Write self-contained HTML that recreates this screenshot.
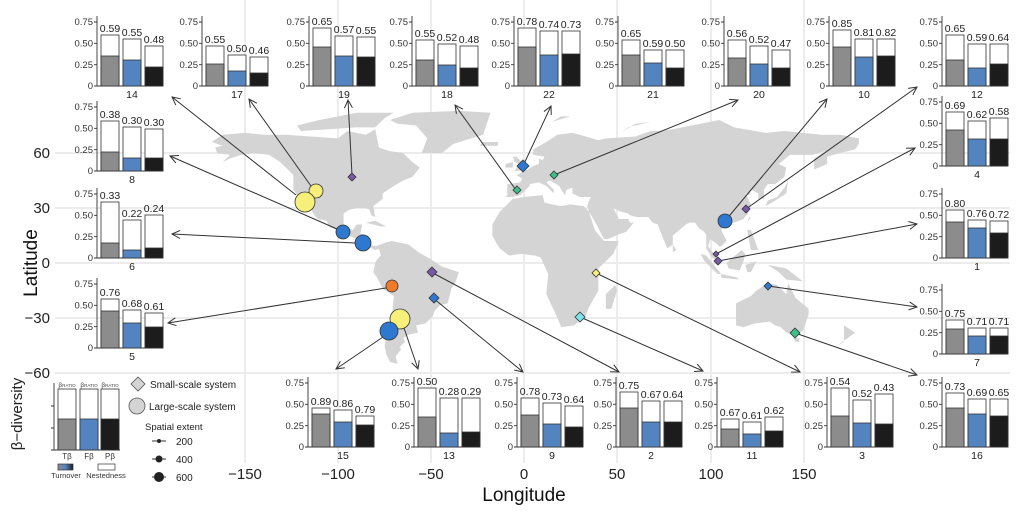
<!DOCTYPE html>
<html><head><meta charset="utf-8"><style>
html,body{margin:0;padding:0;background:#fff}
svg{display:block}
text{font-family:"Liberation Sans",Arial,sans-serif}
.t{font-size:9.5px;fill:#333;text-anchor:end}
.v{font-size:10.5px;fill:#222;text-anchor:middle}
.n{font-size:10.5px;fill:#222;text-anchor:middle}
.ax{stroke:#333;stroke-width:0.9;fill:none}
.g{fill:#8c8c8c;stroke:#333;stroke-width:0.8}
.b{fill:#5384c0;stroke:#333;stroke-width:0.8}
.k{fill:#1c1c1c;stroke:#333;stroke-width:0.8}
.w{fill:#fff;stroke:#333;stroke-width:0.8}
.ar{stroke:#333;stroke-width:1;fill:none}
.tk{font-size:15px;fill:#222}
</style></head><body>
<svg width="1024" height="512" viewBox="0 0 1024 512" xmlns="http://www.w3.org/2000/svg">
<defs>
<marker id="ah" markerWidth="10" markerHeight="10" refX="9" refY="5" orient="auto" markerUnits="userSpaceOnUse">
<path d="M1,1 L9,5 L1,9" fill="none" stroke="#333" stroke-width="1"/></marker>
<linearGradient id="tg" x1="0" x2="1"><stop offset="0" stop-color="#8c8c8c"/><stop offset="0.5" stop-color="#5384c0"/><stop offset="1" stop-color="#1c1c1c"/></linearGradient>
</defs>
<g stroke="#ececec" stroke-width="2">
<line x1="55" y1="153" x2="1010" y2="153"/><line x1="55" y1="208" x2="1010" y2="208"/>
<line x1="55" y1="263" x2="1010" y2="263"/><line x1="55" y1="318" x2="1010" y2="318"/>
<line x1="55" y1="373" x2="1010" y2="373"/>
<line x1="245" y1="0" x2="245" y2="463"/><line x1="338" y1="0" x2="338" y2="463"/>
<line x1="431" y1="0" x2="431" y2="463"/><line x1="524" y1="0" x2="524" y2="463"/>
<line x1="617" y1="0" x2="617" y2="463"/><line x1="711" y1="0" x2="711" y2="463"/>
<line x1="804" y1="0" x2="804" y2="463"/>
</g>
<g transform="translate(524,263) scale(1.86,-1.833)" fill="#d4d4d4" stroke="none">
<polygon points="-168,66 -162,70 -150,71 -140,70 -128,70 -115,69 -100,68 -95,72 -85,70 -80,73 -78,63 -72,61 -65,60 -60,55 -56,52 -60,47 -65,45 -70,42 -76,38 -76,35 -81,31 -80,25 -82,26 -83,29 -85,30 -90,30 -94,29 -97,27 -97,21 -95,19 -92,18 -90,21 -87,21 -88,16 -84,15 -83,10 -79,9 -77,8 -80,7 -84,9 -86,11 -88,13 -92,14 -97,16 -105,20 -106,23 -110,24 -112,29 -109,23 -112,25 -115,30 -117,32 -120,34 -124,40 -124,48 -127,51 -131,55 -137,59 -145,60 -152,59 -158,57 -162,55 -158,59 -165,60 -166,63 -162,64"/>
<polygon points="-120,72 -105,73 -90,74 -80,74 -75,79 -70,82 -90,82 -110,78 -122,75"/>
<polygon points="-55,60 -44,60 -38,65 -22,70 -20,76 -18,82 -35,83 -60,82 -72,78 -68,76 -58,75 -52,68"/>
<polygon points="-24,64 -14,64 -14,66 -22,66"/>
<polygon points="-85,22 -77,20 -74,20 -80,23"/>
<polygon points="-80,9 -75,11 -71,12 -62,10 -57,6 -50,2 -44,-2 -35,-5 -37,-11 -39,-14 -41,-22 -45,-23 -48,-26 -49,-29 -53,-33 -58,-34 -57,-38 -62,-39 -65,-41 -64,-43 -67,-46 -66,-47 -69,-51 -68,-55 -72,-54 -74,-50 -75,-45 -73,-37 -71,-30 -70,-18 -76,-14 -79,-8 -81,-5 -80,0 -79,2 -77,4 -78,8"/>
<polygon points="-10,36 -9,37 -9,43 -2,44 -1,46 -4,48 2,51 5,53 8,54 8,57 10,56 11,58 5,59 5,62 12,66 18,70 26,71 30,70 40,67 44,68 60,69 68,72 72,72 80,73 90,75 100,77 105,78 113,74 130,71 140,72 150,71 160,70 170,70 180,68 180,65 178,62 170,60 163,58 163,54 156,51 156,57 162,61 155,59 143,59 137,54 141,52 140,47 135,43 131,43 129,40 129,35 126,35 126,38 122,40 121,37 119,38 122,32 121,28 118,24 113,22 108,21 106,18 109,12 106,9 105,9 103,11 100,13 99,9 103,4 104,1 101,3 98,8 98,15 97,17 94,19 92,22 89,22 87,21 80,15 80,10 77,8 73,18 72,21 69,22 67,25 61,25 57,26 56,27 52,28 48,30 50,26 51,24 56,24 57,22 59,22 55,17 52,16 45,13 43,13 39,21 35,28 34,31 35,34 36,36 30,36 26,38 26,41 23,40 22,37 20,40 19,42 14,45 12,44 16,40 16,38 12,42 8,44 3,43 3,42 0,39 -2,37 -6,36"/>
<polygon points="-5,50 1,51 0,53 -2,56 -4,58 -6,58 -5,55 -3,54"/>
<polygon points="-10,52 -6,52 -6,55 -10,54"/>
<polygon points="-17,15 -17,21 -13,28 -9,32 -6,35 0,36 10,37 11,33 15,32 20,31 25,32 32,31 35,28 38,18 43,12 51,12 48,5 40,-3 40,-10 40,-15 35,-24 33,-29 27,-34 20,-35 18,-30 12,-17 13,-6 9,3 6,4 -2,5 -8,4 -13,8 -15,11"/>
<polygon points="44,-25 47,-25 50,-15 49,-12 44,-17"/>
<polygon points="114,-22 114,-34 118,-35 124,-33 132,-32 135,-34 138,-35 141,-38 146,-39 150,-37 153,-28 153,-25 146,-19 142,-11 141,-17 136,-12 131,-11 125,-15 122,-18"/>
<polygon points="145,-41 148,-41 148,-43 146,-43"/>
<polygon points="95,5 98,4 106,-6 104,-6 97,1"/>
<polygon points="106,-6 115,-8 115,-9 106,-8"/>
<polygon points="109,0 111,2 117,7 119,5 118,1 116,-4 110,-3"/>
<polygon points="119,-1 125,1 122,-5 120,-5"/>
<polygon points="131,-1 141,-3 150,-10 141,-9 137,-5"/>
<polygon points="120,18 122,18 126,7 122,7"/>
<polygon points="120,22 122,25 121,25"/>
<polygon points="130,31 135,34 141,38 142,45 140,41 136,36 131,34"/>
<polygon points="80,6 82,7 80,10"/>
<polygon points="172,-34 178,-38 174,-41 167,-46 172,-43"/>
<polygon points="15,77 25,80 20,80"/>
<polygon points="52,71 60,76 68,77 56,74"/>
<polygon points="143,50 144,46 142,54"/>
</g>
<g class="ar" marker-end="url(#ah)">
<line x1="296" y1="195" x2="172" y2="97"/>
<line x1="311" y1="186" x2="249" y2="99"/>
<line x1="352" y1="175" x2="348" y2="100"/>
<line x1="337" y1="229" x2="170" y2="156"/>
<line x1="355" y1="243" x2="172" y2="234"/>
<line x1="386" y1="288" x2="168" y2="323"/>
<line x1="383" y1="337" x2="336" y2="369"/>
<line x1="404" y1="328" x2="418" y2="369"/>
<line x1="433" y1="298" x2="523" y2="372"/>
<line x1="431" y1="272" x2="619" y2="372"/>
<line x1="580" y1="317" x2="703" y2="371"/>
<line x1="596" y1="273" x2="800" y2="372"/>
<line x1="516" y1="190" x2="455" y2="105"/>
<line x1="523" y1="166" x2="551" y2="106"/>
<line x1="554" y1="175" x2="738" y2="100"/>
<line x1="725" y1="221" x2="827" y2="99"/>
<line x1="746" y1="209" x2="917" y2="87"/>
<line x1="716" y1="254" x2="915" y2="148"/>
<line x1="718" y1="261" x2="917" y2="224"/>
<line x1="768" y1="286" x2="917" y2="307"/>
<line x1="795" y1="333" x2="917" y2="375"/>
</g>
<g stroke="#333" stroke-width="0.8">
<circle cx="316" cy="191" r="7" fill="#f6f07a"/>
<circle cx="305" cy="202" r="10" fill="#f6f07a"/>
<circle cx="343" cy="232" r="7" fill="#2f78d0"/>
<circle cx="363" cy="243" r="8" fill="#2f78d0"/>
<circle cx="392" cy="286" r="6" fill="#f07c2a"/>
<circle cx="400" cy="319" r="10" fill="#f6f07a"/>
<circle cx="389" cy="331" r="9" fill="#2f78d0"/>
<circle cx="725" cy="221" r="7" fill="#2f78d0"/>
<polygon points="352,173 356,177 352,181 348,177" fill="#7a58a8"/>
<polygon points="432,267 437,272 432,277 427,272" fill="#7a58a8"/>
<polygon points="434,293 439,298 434,303 429,298" fill="#2f78d0"/>
<polygon points="523,160 529,166 523,172 517,166" fill="#2f78d0"/>
<polygon points="517,186 521,190 517,194 513,190" fill="#3cc08a"/>
<polygon points="554,171 558,175 554,179 550,175" fill="#3cc08a"/>
<polygon points="596,269 600,273 596,277 592,273" fill="#f6f07a"/>
<polygon points="580,312 585,317 580,322 575,317" fill="#7de6ec"/>
<polygon points="746,205 750,209 746,213 742,209" fill="#7a58a8"/>
<polygon points="716,251 719,254 716,257 713,254" fill="#7a58a8"/>
<polygon points="718,257 722,261 718,265 714,261" fill="#7a58a8"/>
<polygon points="768,282 772,286 768,290 764,286" fill="#2f78d0"/>
<polygon points="795,328 800,333 795,338 790,333" fill="#3cc08a"/>
</g>
<g class="tk" text-anchor="end">
<text x="50" y="158">60</text><text x="50" y="213">30</text><text x="50" y="268">0</text>
<text x="50" y="323">−30</text><text x="50" y="378">−60</text></g>
<g class="tk" text-anchor="middle">
<text x="245" y="479">−150</text><text x="338" y="479">−100</text><text x="431" y="479">−50</text>
<text x="524" y="479">0</text><text x="617" y="479">50</text><text x="711" y="479">100</text><text x="804" y="479">150</text></g>
<text x="524" y="501" font-size="19" text-anchor="middle" fill="#111">Longitude</text>
<text transform="translate(37,263) rotate(-90)" font-size="19" text-anchor="middle" fill="#111">Latitude</text>

<g transform="translate(97,86)"><path class="ax" d="M0,-70V0H66M-3,0H0M-3,-21.3H0M-3,-42.7H0M-3,-64H0"/><text class="t" x="-4" y="3">0</text><text class="t" x="-4" y="-18">0.25</text><text class="t" x="-4" y="-39.5">0.50</text><text class="t" x="-4" y="-61">0.75</text>
<rect class="w" x="4" y="-51" width="18" height="51"/><rect class="g" x="4" y="-30" width="18" height="30"/><rect class="w" x="26" y="-47" width="18" height="47"/><rect class="b" x="26" y="-26" width="18" height="26"/><rect class="w" x="48" y="-40" width="18" height="40"/><rect class="k" x="48" y="-19" width="18" height="19"/>
<text class="v" x="13" y="-54">0.59</text><text class="v" x="35" y="-50">0.55</text><text class="v" x="57" y="-43">0.48</text><text class="n" x="35" y="12">14</text></g>
<g transform="translate(202,86)"><path class="ax" d="M0,-70V0H66M-3,0H0M-3,-21.3H0M-3,-42.7H0M-3,-64H0"/><text class="t" x="-4" y="3">0</text><text class="t" x="-4" y="-18">0.25</text><text class="t" x="-4" y="-39.5">0.50</text><text class="t" x="-4" y="-61">0.75</text>
<rect class="w" x="4" y="-40" width="18" height="40"/><rect class="g" x="4" y="-22" width="18" height="22"/><rect class="w" x="26" y="-31" width="18" height="31"/><rect class="b" x="26" y="-15" width="18" height="15"/><rect class="w" x="48" y="-29" width="18" height="29"/><rect class="k" x="48" y="-13" width="18" height="13"/>
<text class="v" x="13" y="-43">0.55</text><text class="v" x="35" y="-34">0.50</text><text class="v" x="57" y="-32">0.46</text><text class="n" x="35" y="12">17</text></g>
<g transform="translate(309,86)"><path class="ax" d="M0,-70V0H66M-3,0H0M-3,-21.3H0M-3,-42.7H0M-3,-64H0"/><text class="t" x="-4" y="3">0</text><text class="t" x="-4" y="-18">0.25</text><text class="t" x="-4" y="-39.5">0.50</text><text class="t" x="-4" y="-61">0.75</text>
<rect class="w" x="4" y="-58" width="18" height="58"/><rect class="g" x="4" y="-39" width="18" height="39"/><rect class="w" x="26" y="-50" width="18" height="50"/><rect class="b" x="26" y="-30" width="18" height="30"/><rect class="w" x="48" y="-49" width="18" height="49"/><rect class="k" x="48" y="-29" width="18" height="29"/>
<text class="v" x="13" y="-61">0.65</text><text class="v" x="35" y="-53">0.57</text><text class="v" x="57" y="-52">0.55</text><text class="n" x="35" y="12">19</text></g>
<g transform="translate(412,86)"><path class="ax" d="M0,-70V0H66M-3,0H0M-3,-21.3H0M-3,-42.7H0M-3,-64H0"/><text class="t" x="-4" y="3">0</text><text class="t" x="-4" y="-18">0.25</text><text class="t" x="-4" y="-39.5">0.50</text><text class="t" x="-4" y="-61">0.75</text>
<rect class="w" x="4" y="-46" width="18" height="46"/><rect class="g" x="4" y="-26" width="18" height="26"/><rect class="w" x="26" y="-42" width="18" height="42"/><rect class="b" x="26" y="-21" width="18" height="21"/><rect class="w" x="48" y="-40" width="18" height="40"/><rect class="k" x="48" y="-18" width="18" height="18"/>
<text class="v" x="13" y="-49">0.55</text><text class="v" x="35" y="-45">0.52</text><text class="v" x="57" y="-43">0.48</text><text class="n" x="35" y="12">18</text></g>
<g transform="translate(514,86)"><path class="ax" d="M0,-70V0H66M-3,0H0M-3,-21.3H0M-3,-42.7H0M-3,-64H0"/><text class="t" x="-4" y="3">0</text><text class="t" x="-4" y="-18">0.25</text><text class="t" x="-4" y="-39.5">0.50</text><text class="t" x="-4" y="-61">0.75</text>
<rect class="w" x="4" y="-58" width="18" height="58"/><rect class="g" x="4" y="-39" width="18" height="39"/><rect class="w" x="26" y="-55" width="18" height="55"/><rect class="b" x="26" y="-31" width="18" height="31"/><rect class="w" x="48" y="-55" width="18" height="55"/><rect class="k" x="48" y="-32" width="18" height="32"/>
<text class="v" x="13" y="-61">0.78</text><text class="v" x="35" y="-58">0.74</text><text class="v" x="57" y="-58">0.73</text><text class="n" x="35" y="12">22</text></g>
<g transform="translate(618,86)"><path class="ax" d="M0,-70V0H66M-3,0H0M-3,-21.3H0M-3,-42.7H0M-3,-64H0"/><text class="t" x="-4" y="3">0</text><text class="t" x="-4" y="-18">0.25</text><text class="t" x="-4" y="-39.5">0.50</text><text class="t" x="-4" y="-61">0.75</text>
<rect class="w" x="4" y="-46" width="18" height="46"/><rect class="g" x="4" y="-31" width="18" height="31"/><rect class="w" x="26" y="-36" width="18" height="36"/><rect class="b" x="26" y="-23" width="18" height="23"/><rect class="w" x="48" y="-36" width="18" height="36"/><rect class="k" x="48" y="-18" width="18" height="18"/>
<text class="v" x="13" y="-49">0.65</text><text class="v" x="35" y="-39">0.59</text><text class="v" x="57" y="-39">0.50</text><text class="n" x="35" y="12">21</text></g>
<g transform="translate(724,86)"><path class="ax" d="M0,-70V0H66M-3,0H0M-3,-21.3H0M-3,-42.7H0M-3,-64H0"/><text class="t" x="-4" y="3">0</text><text class="t" x="-4" y="-18">0.25</text><text class="t" x="-4" y="-39.5">0.50</text><text class="t" x="-4" y="-61">0.75</text>
<rect class="w" x="4" y="-46" width="18" height="46"/><rect class="g" x="4" y="-28" width="18" height="28"/><rect class="w" x="26" y="-40" width="18" height="40"/><rect class="b" x="26" y="-22" width="18" height="22"/><rect class="w" x="48" y="-36" width="18" height="36"/><rect class="k" x="48" y="-18" width="18" height="18"/>
<text class="v" x="13" y="-49">0.56</text><text class="v" x="35" y="-43">0.52</text><text class="v" x="57" y="-39">0.47</text><text class="n" x="35" y="12">20</text></g>
<g transform="translate(829,86)"><path class="ax" d="M0,-70V0H66M-3,0H0M-3,-21.3H0M-3,-42.7H0M-3,-64H0"/><text class="t" x="-4" y="3">0</text><text class="t" x="-4" y="-18">0.25</text><text class="t" x="-4" y="-39.5">0.50</text><text class="t" x="-4" y="-61">0.75</text>
<rect class="w" x="4" y="-56" width="18" height="56"/><rect class="g" x="4" y="-39" width="18" height="39"/><rect class="w" x="26" y="-47" width="18" height="47"/><rect class="b" x="26" y="-29" width="18" height="29"/><rect class="w" x="48" y="-47" width="18" height="47"/><rect class="k" x="48" y="-30" width="18" height="30"/>
<text class="v" x="13" y="-59">0.85</text><text class="v" x="35" y="-50">0.81</text><text class="v" x="57" y="-50">0.82</text><text class="n" x="35" y="12">10</text></g>
<g transform="translate(942,86)"><path class="ax" d="M0,-70V0H66M-3,0H0M-3,-21.3H0M-3,-42.7H0M-3,-64H0"/><text class="t" x="-4" y="3">0</text><text class="t" x="-4" y="-18">0.25</text><text class="t" x="-4" y="-39.5">0.50</text><text class="t" x="-4" y="-61">0.75</text>
<rect class="w" x="4" y="-51" width="18" height="51"/><rect class="g" x="4" y="-26" width="18" height="26"/><rect class="w" x="26" y="-42" width="18" height="42"/><rect class="b" x="26" y="-18" width="18" height="18"/><rect class="w" x="48" y="-42" width="18" height="42"/><rect class="k" x="48" y="-22" width="18" height="22"/>
<text class="v" x="13" y="-54">0.65</text><text class="v" x="35" y="-45">0.59</text><text class="v" x="57" y="-45">0.64</text><text class="n" x="35" y="12">12</text></g>
<g transform="translate(97,171)"><path class="ax" d="M0,-70V0H66M-3,0H0M-3,-21.3H0M-3,-42.7H0M-3,-64H0"/><text class="t" x="-4" y="3">0</text><text class="t" x="-4" y="-18">0.25</text><text class="t" x="-4" y="-39.5">0.50</text><text class="t" x="-4" y="-61">0.75</text>
<rect class="w" x="4" y="-50" width="18" height="50"/><rect class="g" x="4" y="-19" width="18" height="19"/><rect class="w" x="26" y="-44" width="18" height="44"/><rect class="b" x="26" y="-13" width="18" height="13"/><rect class="w" x="48" y="-42" width="18" height="42"/><rect class="k" x="48" y="-13" width="18" height="13"/>
<text class="v" x="13" y="-53">0.38</text><text class="v" x="35" y="-47">0.30</text><text class="v" x="57" y="-45">0.30</text><text class="n" x="35" y="12">8</text></g>
<g transform="translate(97,258)"><path class="ax" d="M0,-70V0H66M-3,0H0M-3,-21.3H0M-3,-42.7H0M-3,-64H0"/><text class="t" x="-4" y="3">0</text><text class="t" x="-4" y="-18">0.25</text><text class="t" x="-4" y="-39.5">0.50</text><text class="t" x="-4" y="-61">0.75</text>
<rect class="w" x="4" y="-56" width="18" height="56"/><rect class="g" x="4" y="-15" width="18" height="15"/><rect class="w" x="26" y="-38" width="18" height="38"/><rect class="b" x="26" y="-8" width="18" height="8"/><rect class="w" x="48" y="-43" width="18" height="43"/><rect class="k" x="48" y="-10" width="18" height="10"/>
<text class="v" x="13" y="-59">0.33</text><text class="v" x="35" y="-41">0.22</text><text class="v" x="57" y="-46">0.24</text><text class="n" x="35" y="12">6</text></g>
<g transform="translate(97,348)"><path class="ax" d="M0,-70V0H66M-3,0H0M-3,-21.3H0M-3,-42.7H0M-3,-64H0"/><text class="t" x="-4" y="3">0</text><text class="t" x="-4" y="-18">0.25</text><text class="t" x="-4" y="-39.5">0.50</text><text class="t" x="-4" y="-61">0.75</text>
<rect class="w" x="4" y="-49" width="18" height="49"/><rect class="g" x="4" y="-37" width="18" height="37"/><rect class="w" x="26" y="-38" width="18" height="38"/><rect class="b" x="26" y="-25" width="18" height="25"/><rect class="w" x="48" y="-35" width="18" height="35"/><rect class="k" x="48" y="-21" width="18" height="21"/>
<text class="v" x="13" y="-52">0.76</text><text class="v" x="35" y="-41">0.68</text><text class="v" x="57" y="-38">0.61</text><text class="n" x="35" y="12">5</text></g>
<g transform="translate(942,166)"><path class="ax" d="M0,-70V0H66M-3,0H0M-3,-21.3H0M-3,-42.7H0M-3,-64H0"/><text class="t" x="-4" y="3">0</text><text class="t" x="-4" y="-18">0.25</text><text class="t" x="-4" y="-39.5">0.50</text><text class="t" x="-4" y="-61">0.75</text>
<rect class="w" x="4" y="-54" width="18" height="54"/><rect class="g" x="4" y="-36" width="18" height="36"/><rect class="w" x="26" y="-45" width="18" height="45"/><rect class="b" x="26" y="-27" width="18" height="27"/><rect class="w" x="48" y="-48" width="18" height="48"/><rect class="k" x="48" y="-27" width="18" height="27"/>
<text class="v" x="13" y="-57">0.69</text><text class="v" x="35" y="-48">0.62</text><text class="v" x="57" y="-51">0.58</text><text class="n" x="35" y="12">4</text></g>
<g transform="translate(942,258)"><path class="ax" d="M0,-70V0H66M-3,0H0M-3,-21.3H0M-3,-42.7H0M-3,-64H0"/><text class="t" x="-4" y="3">0</text><text class="t" x="-4" y="-18">0.25</text><text class="t" x="-4" y="-39.5">0.50</text><text class="t" x="-4" y="-61">0.75</text>
<rect class="w" x="4" y="-48" width="18" height="48"/><rect class="g" x="4" y="-36" width="18" height="36"/><rect class="w" x="26" y="-38" width="18" height="38"/><rect class="b" x="26" y="-30" width="18" height="30"/><rect class="w" x="48" y="-37" width="18" height="37"/><rect class="k" x="48" y="-25" width="18" height="25"/>
<text class="v" x="13" y="-51">0.80</text><text class="v" x="35" y="-41">0.76</text><text class="v" x="57" y="-40">0.72</text><text class="n" x="35" y="12">1</text></g>
<g transform="translate(942,354)"><path class="ax" d="M0,-70V0H66M-3,0H0M-3,-21.3H0M-3,-42.7H0M-3,-64H0"/><text class="t" x="-4" y="3">0</text><text class="t" x="-4" y="-18">0.25</text><text class="t" x="-4" y="-39.5">0.50</text><text class="t" x="-4" y="-61">0.75</text>
<rect class="w" x="4" y="-34" width="18" height="34"/><rect class="g" x="4" y="-25" width="18" height="25"/><rect class="w" x="26" y="-26" width="18" height="26"/><rect class="b" x="26" y="-18" width="18" height="18"/><rect class="w" x="48" y="-26" width="18" height="26"/><rect class="k" x="48" y="-18" width="18" height="18"/>
<text class="v" x="13" y="-37">0.75</text><text class="v" x="35" y="-29">0.71</text><text class="v" x="57" y="-29">0.71</text><text class="n" x="35" y="12">7</text></g>
<g transform="translate(942,447)"><path class="ax" d="M0,-70V0H66M-3,0H0M-3,-21.3H0M-3,-42.7H0M-3,-64H0"/><text class="t" x="-4" y="3">0</text><text class="t" x="-4" y="-18">0.25</text><text class="t" x="-4" y="-39.5">0.50</text><text class="t" x="-4" y="-61">0.75</text>
<rect class="w" x="4" y="-54" width="18" height="54"/><rect class="g" x="4" y="-39" width="18" height="39"/><rect class="w" x="26" y="-48" width="18" height="48"/><rect class="b" x="26" y="-33" width="18" height="33"/><rect class="w" x="48" y="-48" width="18" height="48"/><rect class="k" x="48" y="-31" width="18" height="31"/>
<text class="v" x="13" y="-57">0.73</text><text class="v" x="35" y="-51">0.69</text><text class="v" x="57" y="-51">0.65</text><text class="n" x="35" y="12">16</text></g>
<g transform="translate(827,447)"><path class="ax" d="M0,-70V0H66M-3,0H0M-3,-21.3H0M-3,-42.7H0M-3,-64H0"/><text class="t" x="-4" y="3">0</text><text class="t" x="-4" y="-18">0.25</text><text class="t" x="-4" y="-39.5">0.50</text><text class="t" x="-4" y="-61">0.75</text>
<rect class="w" x="4" y="-59" width="18" height="59"/><rect class="g" x="4" y="-31" width="18" height="31"/><rect class="w" x="26" y="-47" width="18" height="47"/><rect class="b" x="26" y="-24" width="18" height="24"/><rect class="w" x="48" y="-53" width="18" height="53"/><rect class="k" x="48" y="-23" width="18" height="23"/>
<text class="v" x="13" y="-62">0.54</text><text class="v" x="35" y="-50">0.52</text><text class="v" x="57" y="-56">0.43</text><text class="n" x="35" y="12">3</text></g>
<g transform="translate(717,447)"><path class="ax" d="M0,-70V0H66M-3,0H0M-3,-21.3H0M-3,-42.7H0M-3,-64H0"/><text class="t" x="-4" y="3">0</text><text class="t" x="-4" y="-18">0.25</text><text class="t" x="-4" y="-39.5">0.50</text><text class="t" x="-4" y="-61">0.75</text>
<rect class="w" x="4" y="-28" width="18" height="28"/><rect class="g" x="4" y="-18" width="18" height="18"/><rect class="w" x="26" y="-25" width="18" height="25"/><rect class="b" x="26" y="-13" width="18" height="13"/><rect class="w" x="48" y="-30" width="18" height="30"/><rect class="k" x="48" y="-16" width="18" height="16"/>
<text class="v" x="13" y="-31">0.67</text><text class="v" x="35" y="-28">0.61</text><text class="v" x="57" y="-33">0.62</text><text class="n" x="35" y="12">11</text></g>
<g transform="translate(616,447)"><path class="ax" d="M0,-70V0H66M-3,0H0M-3,-21.3H0M-3,-42.7H0M-3,-64H0"/><text class="t" x="-4" y="3">0</text><text class="t" x="-4" y="-18">0.25</text><text class="t" x="-4" y="-39.5">0.50</text><text class="t" x="-4" y="-61">0.75</text>
<rect class="w" x="4" y="-55" width="18" height="55"/><rect class="g" x="4" y="-39" width="18" height="39"/><rect class="w" x="26" y="-46" width="18" height="46"/><rect class="b" x="26" y="-25" width="18" height="25"/><rect class="w" x="48" y="-46" width="18" height="46"/><rect class="k" x="48" y="-25" width="18" height="25"/>
<text class="v" x="13" y="-58">0.75</text><text class="v" x="35" y="-49">0.67</text><text class="v" x="57" y="-49">0.64</text><text class="n" x="35" y="12">2</text></g>
<g transform="translate(517,447)"><path class="ax" d="M0,-70V0H66M-3,0H0M-3,-21.3H0M-3,-42.7H0M-3,-64H0"/><text class="t" x="-4" y="3">0</text><text class="t" x="-4" y="-18">0.25</text><text class="t" x="-4" y="-39.5">0.50</text><text class="t" x="-4" y="-61">0.75</text>
<rect class="w" x="4" y="-49" width="18" height="49"/><rect class="g" x="4" y="-32" width="18" height="32"/><rect class="w" x="26" y="-44" width="18" height="44"/><rect class="b" x="26" y="-23" width="18" height="23"/><rect class="w" x="48" y="-41" width="18" height="41"/><rect class="k" x="48" y="-20" width="18" height="20"/>
<text class="v" x="13" y="-52">0.78</text><text class="v" x="35" y="-47">0.73</text><text class="v" x="57" y="-44">0.64</text><text class="n" x="35" y="12">9</text></g>
<g transform="translate(414,447)"><path class="ax" d="M0,-70V0H66M-3,0H0M-3,-21.3H0M-3,-42.7H0M-3,-64H0"/><text class="t" x="-4" y="3">0</text><text class="t" x="-4" y="-18">0.25</text><text class="t" x="-4" y="-39.5">0.50</text><text class="t" x="-4" y="-61">0.75</text>
<rect class="w" x="4" y="-59" width="18" height="59"/><rect class="g" x="4" y="-30" width="18" height="30"/><rect class="w" x="26" y="-49" width="18" height="49"/><rect class="b" x="26" y="-14" width="18" height="14"/><rect class="w" x="48" y="-49" width="18" height="49"/><rect class="k" x="48" y="-15" width="18" height="15"/>
<text class="v" x="13" y="-62">0.50</text><text class="v" x="35" y="-52">0.28</text><text class="v" x="57" y="-52">0.29</text><text class="n" x="35" y="12">13</text></g>
<g transform="translate(308,447)"><path class="ax" d="M0,-70V0H66M-3,0H0M-3,-21.3H0M-3,-42.7H0M-3,-64H0"/><text class="t" x="-4" y="3">0</text><text class="t" x="-4" y="-18">0.25</text><text class="t" x="-4" y="-39.5">0.50</text><text class="t" x="-4" y="-61">0.75</text>
<rect class="w" x="4" y="-39" width="18" height="39"/><rect class="g" x="4" y="-33" width="18" height="33"/><rect class="w" x="26" y="-37" width="18" height="37"/><rect class="b" x="26" y="-25" width="18" height="25"/><rect class="w" x="48" y="-31" width="18" height="31"/><rect class="k" x="48" y="-22" width="18" height="22"/>
<text class="v" x="13" y="-42">0.89</text><text class="v" x="35" y="-40">0.86</text><text class="v" x="57" y="-34">0.79</text><text class="n" x="35" y="12">15</text></g>

<g>
<path class="ax" d="M54,383V450H120M51,450H54M51,428H54M51,406H54"/>
<rect class="w" x="58" y="389" width="18" height="61"/><rect class="g" x="58" y="419" width="18" height="31"/>
<rect class="w" x="80" y="389" width="18" height="61"/><rect class="b" x="80" y="419" width="18" height="31"/>
<rect class="w" x="101" y="389" width="18" height="61"/><rect class="k" x="101" y="419" width="18" height="31"/>
<text x="67" y="387" font-size="6.5" text-anchor="middle" fill="#444">β<tspan font-size="4.5">RATIO</tspan></text>
<text x="89" y="387" font-size="6.5" text-anchor="middle" fill="#444">β<tspan font-size="4.5">RATIO</tspan></text>
<text x="110" y="387" font-size="6.5" text-anchor="middle" fill="#444">β<tspan font-size="4.5">RATIO</tspan></text>
<text transform="translate(22,414) rotate(-90)" font-size="15" text-anchor="middle" fill="#222">β−diversity</text>
<text x="67" y="459" font-size="8" text-anchor="middle" fill="#333">Tβ</text>
<text x="89" y="459" font-size="8" text-anchor="middle" fill="#333">Fβ</text>
<text x="110" y="459" font-size="8" text-anchor="middle" fill="#333">Pβ</text>
<rect x="58" y="464" width="15" height="6" fill="url(#tg)" stroke="#333" stroke-width="0.7"/>
<rect x="98" y="464" width="17" height="6" fill="#fff" stroke="#333" stroke-width="0.7"/>
<text x="66" y="478" font-size="7.5" text-anchor="middle" fill="#333">Turnover</text>
<text x="106" y="478" font-size="7.5" text-anchor="middle" fill="#333">Nestedness</text>
<polygon points="138,377 145,384 138,391 131,384" fill="#d4d4d4" stroke="#555" stroke-width="0.8"/>
<text x="150" y="388" font-size="10" fill="#222">Small-scale system</text>
<circle cx="137" cy="406" r="8" fill="#d4d4d4" stroke="#555" stroke-width="0.8"/>
<text x="149" y="410" font-size="10" fill="#222">Large-scale system</text>
<text x="145" y="430" font-size="9.5" fill="#222">Spatial extent</text>
<line x1="152" y1="441" x2="166" y2="441" stroke="#333"/><circle cx="159" cy="441" r="2" fill="#222"/>
<line x1="152" y1="459" x2="166" y2="459" stroke="#333"/><circle cx="159" cy="459" r="3.5" fill="#222"/>
<line x1="152" y1="477" x2="166" y2="477" stroke="#333"/><circle cx="159" cy="477" r="5" fill="#222"/>
<text x="176" y="445" font-size="10" fill="#222">200</text>
<text x="176" y="463" font-size="10" fill="#222">400</text>
<text x="176" y="481" font-size="10" fill="#222">600</text>
</g>
</svg>
</body></html>
